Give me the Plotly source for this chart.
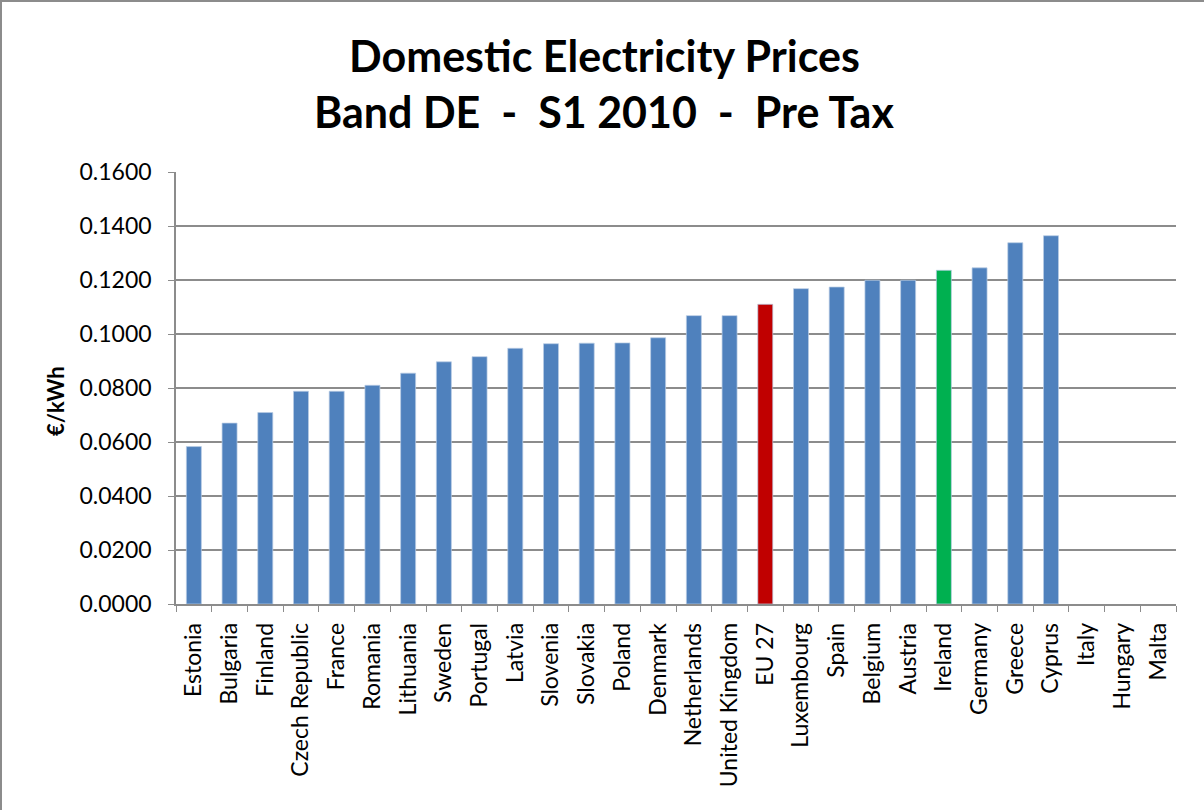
import plotly.graph_objects as go

countries = [
    "Estonia", "Bulgaria", "Finland", "Czech Republic", "France", "Romania",
    "Lithuania", "Sweden", "Portugal", "Latvia", "Slovenia", "Slovakia",
    "Poland", "Denmark", "Netherlands", "United Kingdom", "EU 27",
    "Luxembourg", "Spain", "Belgium", "Austria", "Ireland", "Germany",
    "Greece", "Cyprus", "Italy", "Hungary", "Malta",
]
prices = [
    0.0583, 0.0670, 0.0709, 0.0788, 0.0788, 0.0810,
    0.0855, 0.0897, 0.0916, 0.0947, 0.0964, 0.0966,
    0.0967, 0.0986, 0.1068, 0.1068, 0.1110,
    0.1168, 0.1174, 0.1199, 0.1199, 0.1236, 0.1245,
    0.1338, 0.1364, None, None, None,
]
highlight = {"EU 27": "#C00000", "Ireland": "#00B050"}
default_colour = "#4F81BD"
y_ticks = [0.0, 0.02, 0.04, 0.06, 0.08, 0.10, 0.12, 0.14, 0.16]
title_lines = ["Domestic Electricity Prices", "Band DE  -  S1 2010  -  Pre Tax"]
y_title = "€/kWh"

colours = [highlight.get(c, default_colour) for c in countries]
font_family = "Lato, 'Open Sans', sans-serif"

fig = go.Figure(
    go.Bar(
        x=countries,
        y=prices,
        marker=dict(color=colours, line=dict(color="rgba(185,205,229,0.9)", width=0.8)),
        hoverinfo="x+y",
    )
)

# plot area: 1000 x 432 px, top-left corner at (176, 172)
annotations = [
    dict(text=f"<b>{title_lines[0]}</b>", x=0.428, y=1.2708, xref="paper", yref="paper",
         xanchor="center", yanchor="middle", showarrow=False,
         font=dict(size=43, family=font_family, color="black")),
    dict(text=f"<b>{title_lines[1]}</b>", x=0.428, y=1.1389, xref="paper", yref="paper",
         xanchor="center", yanchor="middle", showarrow=False,
         font=dict(size=43, family=font_family, color="black")),
    dict(text=f"<b>{y_title}</b>", x=-0.12, y=0.47, xref="paper", yref="paper",
         xanchor="center", yanchor="middle", textangle=-90, showarrow=False,
         font=dict(size=22, family=font_family, color="black")),
]

fig.update_layout(
    width=1204,
    height=810,
    margin=dict(l=176, r=28, t=172, b=206),
    paper_bgcolor="white",
    plot_bgcolor="white",
    bargap=0.58,
    showlegend=False,
    font=dict(family=font_family, color="black"),
    annotations=annotations,
    shapes=[
        dict(
            type="rect", xref="paper", yref="paper",
            x0=-0.175, x1=1.2, y0=-0.6, y1=1.3958,
            line=dict(color="#8C8C8C", width=2), layer="below",
        )
    ],
)

fig.update_xaxes(
    type="category",
    tickangle=-90,
    tickfont=dict(size=23, family=font_family),
    ticklabelstandoff=8,
    showline=True,
    linecolor="#8C8C8C",
    linewidth=1.5,
    ticks="outside",
    tickson="boundaries",
    ticklen=6,
    tickcolor="#8C8C8C",
    showgrid=False,
)

fig.update_yaxes(
    range=[0, 0.16],
    tickvals=y_ticks,
    tickformat=".4f",
    tickfont=dict(size=23, family=font_family),
    ticklabelstandoff=12,
    showline=True,
    linecolor="#8C8C8C",
    linewidth=1.5,
    ticks="outside",
    ticklen=6,
    tickcolor="#8C8C8C",
    showgrid=True,
    gridcolor="#8C8C8C",
    gridwidth=1.5,
    zeroline=False,
)

fig.write_html("out.html")
